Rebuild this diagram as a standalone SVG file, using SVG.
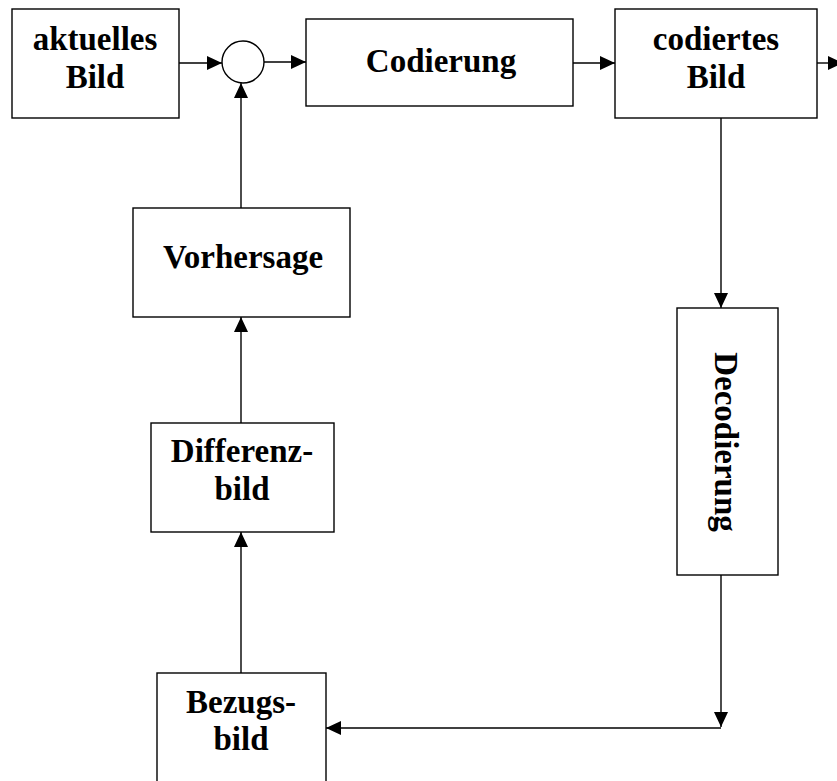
<svg xmlns="http://www.w3.org/2000/svg" width="837" height="781" viewBox="0 0 837 781">
  <style>
    .box { fill: #fff; stroke: #000; stroke-width: 1.4; }
    .lbl { font-family: "Liberation Serif", "Times New Roman", serif; font-weight: bold; font-size: 33px; fill: #000; text-anchor: middle; }
    .wire { fill: none; stroke: #000; stroke-width: 1.4; marker-end: url(#arrow); }
  </style>
  <defs>
    <marker id="arrow" markerUnits="userSpaceOnUse" viewBox="0 0 15 14" refX="15" refY="7" markerWidth="15" markerHeight="14" orient="auto">
      <path d="M0,0 L15,7 L0,14 z" fill="#000"/>
    </marker>
  </defs>
  <rect width="837" height="781" fill="#fff"/>

  <g id="aktuelles-bild">
    <rect class="box" x="12" y="9" width="167" height="109"/>
    <text class="lbl" x="95" y="50">aktuelles</text>
    <text class="lbl" x="95" y="88">Bild</text>
  </g>

  <g id="summierer">
    <circle class="box" cx="243" cy="62" r="21"/>
  </g>

  <g id="codierung">
    <rect class="box" x="306" y="19" width="267" height="87"/>
    <text class="lbl" x="441" y="72">Codierung</text>
  </g>

  <g id="codiertes-bild">
    <rect class="box" x="615" y="9" width="202" height="109"/>
    <text class="lbl" x="716" y="50">codiertes</text>
    <text class="lbl" x="716" y="88">Bild</text>
  </g>

  <g id="decodierung">
    <rect class="box" x="677" y="308" width="101" height="267"/>
    <text class="lbl" transform="translate(715,442) rotate(90)">Decodierung</text>
  </g>

  <g id="vorhersage">
    <rect class="box" x="133" y="208" width="217" height="109"/>
    <text class="lbl" x="243" y="268">Vorhersage</text>
  </g>

  <g id="differenzbild">
    <rect class="box" x="151" y="423" width="183" height="109"/>
    <text class="lbl" x="242" y="462">Differenz-</text>
    <text class="lbl" x="242" y="500">bild</text>
  </g>

  <g id="bezugsbild">
    <rect class="box" x="157" y="673" width="169" height="120"/>
    <text class="lbl" x="241" y="713">Bezugs-</text>
    <text class="lbl" x="241" y="750">bild</text>
  </g>

  <g id="connectors">
    <path class="wire" d="M179,63 H222"/>
    <path class="wire" d="M264,62 H306"/>
    <path class="wire" d="M573,63 H615"/>
    <path class="wire" d="M817,63 H843"/>
    <path class="wire" d="M721,118 V308"/>
    <path class="wire" d="M721,575 V727"/>
    <path class="wire" d="M721,728 H326"/>
    <path class="wire" d="M241,673 V532"/>
    <path class="wire" d="M241,423 V317"/>
    <path class="wire" d="M241,208 V83"/>
  </g>
</svg>
